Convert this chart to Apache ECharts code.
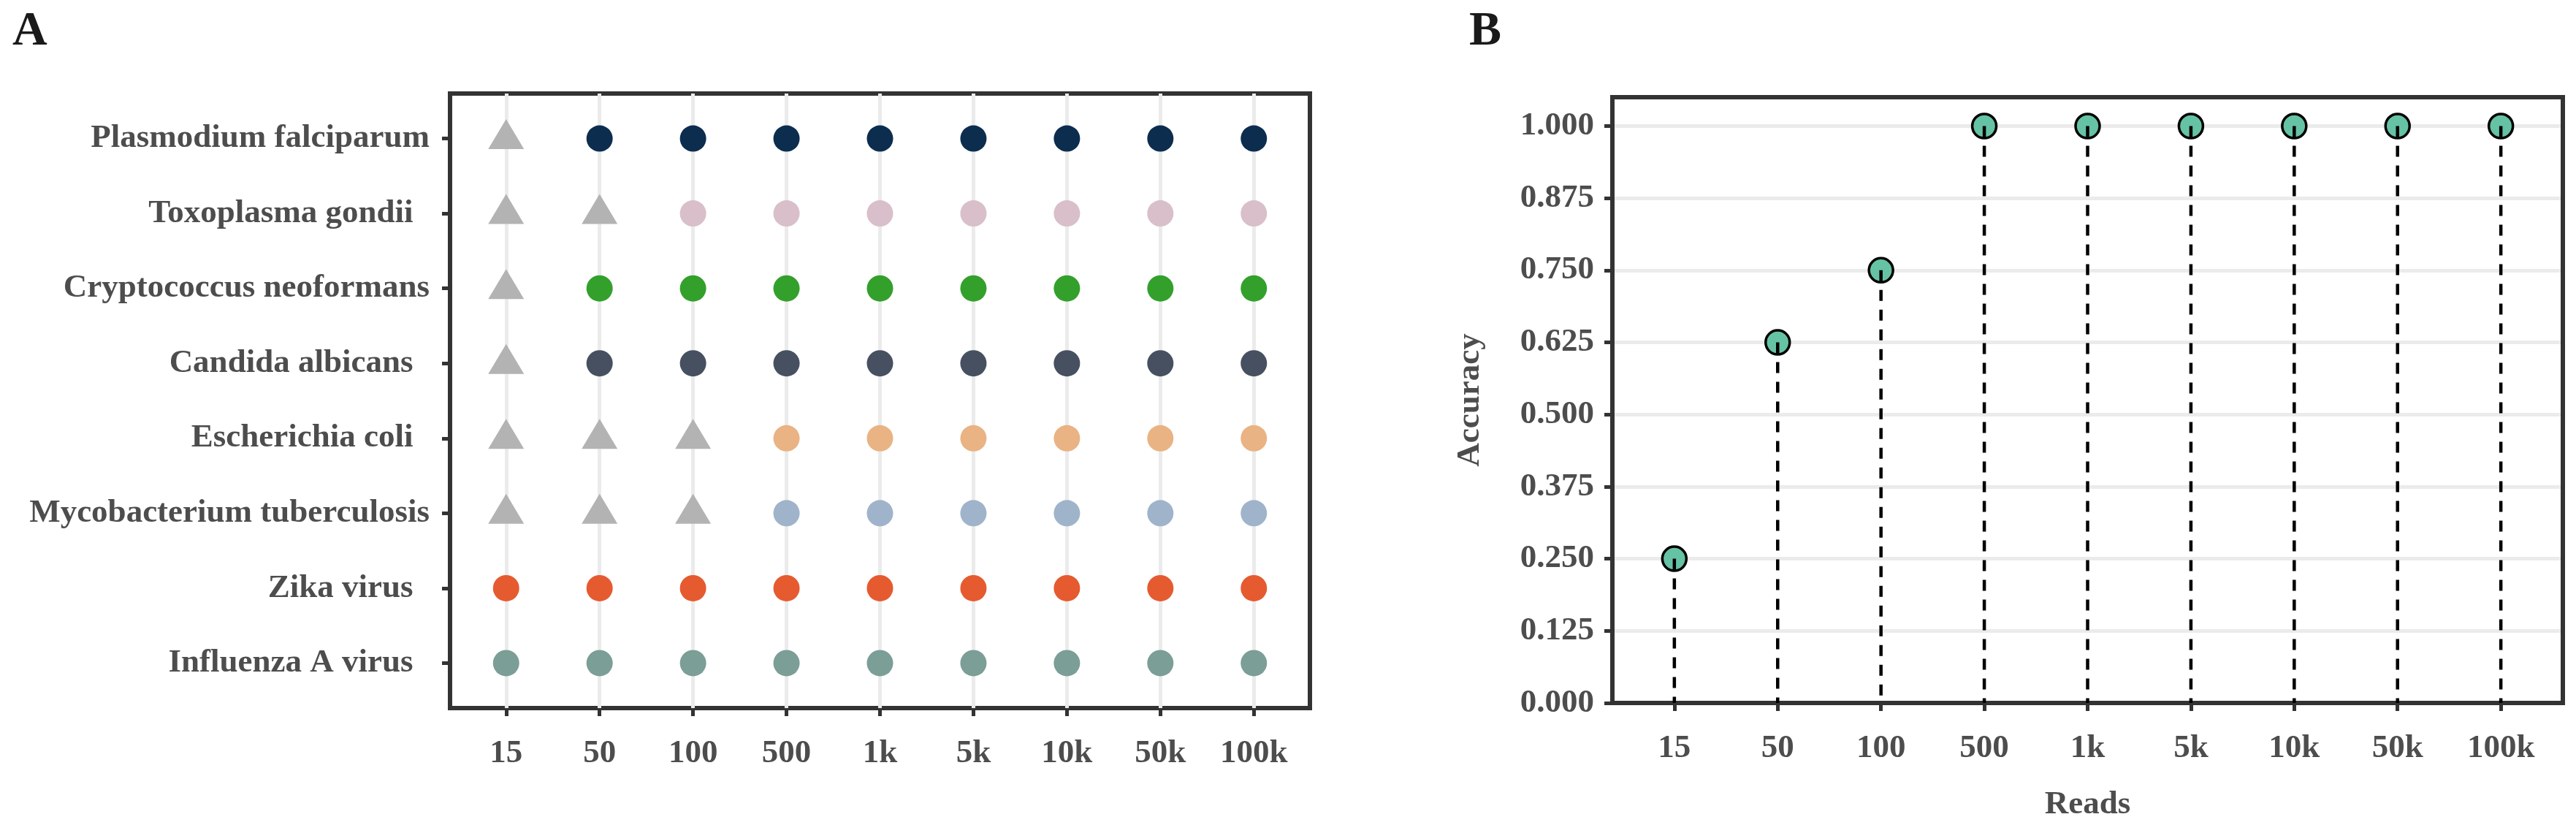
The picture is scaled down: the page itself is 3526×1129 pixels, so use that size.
<!DOCTYPE html>
<html>
<head>
<meta charset="utf-8">
<script src="https://cdn.jsdelivr.net/npm/echarts@6/dist/echarts.min.js"></script>
<style>
  html, body { margin: 0; padding: 0; background: #fff; }
  #chart { width: 3526px; height: 1129px; }
</style>
</head>
<body>
<div id="chart"></div>
<script>
// read depths shared by both panels
const readLabels = ['15', '50', '100', '500', '1k', '5k', '10k', '50k', '100k'];

// panel A, listed bottom to top as on the y axis
const species = [
  'Influenza A virus  ',
  'Zika virus  ',
  'Mycobacterium tuberculosis',
  'Escherichia coli  ',
  'Candida albicans  ',
  'Cryptococcus neoformans',
  'Toxoplasma gondii  ',
  'Plasmodium falciparum'
];
const speciesColors = ['#7b9e97', '#e65a30', '#9fb4ca', '#eab383', '#475060', '#33a02c', '#d8bfca', '#0c2d4e'];
// number of lowest read depths at which the species was missed (grey triangles)
const missedDepths = [0, 0, 3, 3, 1, 1, 2, 1];

// panel B
const accuracy = [0.25, 0.625, 0.75, 1, 1, 1, 1, 1, 1];
const accuracyTicks = [0, 0.125, 0.25, 0.375, 0.5, 0.625, 0.75, 0.875, 1];

const FONT = '"Liberation Serif", "Times New Roman", serif';
const TEXT = '#4d4d4d';
const INK = '#333333';

const readIdx = readLabels.map((_, i) => i);
const speciesIdx = species.map((_, i) => i);

const detected = [];
const missed = [];
species.forEach((name, s) => {
  readLabels.forEach((lab, r) => {
    if (r < missedDepths[s]) {
      missed.push([r, s]);
    } else {
      detected.push({ value: [r, s], itemStyle: { color: speciesColors[s], opacity: 1 } });
    }
  });
});

const labelStyle = { fontFamily: FONT, fontWeight: 'bold', fontSize: 45, color: TEXT };
const tickStyle = { show: true, length: 11, lineStyle: { color: INK, width: 5 } };
const noLine = { show: false, onZero: false };

const chart = echarts.init(document.getElementById('chart'), null, { renderer: 'canvas' });

const option = {
  animation: false,
  backgroundColor: '#ffffff',
  title: [
    { text: 'A', left: 12, top: 6, textStyle: { fontFamily: FONT, fontWeight: 'bold', fontSize: 66, color: '#1a1a1a' } },
    { text: 'B', left: 2006, top: 6, textStyle: { fontFamily: FONT, fontWeight: 'bold', fontSize: 66, color: '#1a1a1a' } }
  ],
  grid: [
    { left: 616, right: 1733, top: 128, bottom: 160, z: 1, show: true, borderColor: INK, borderWidth: 6, backgroundColor: 'transparent' },
    { left: 2207, right: 18, top: 133, bottom: 151, z: 1, show: true, borderColor: INK, borderWidth: 6, backgroundColor: 'transparent' }
  ],
  xAxis: [
    {
      gridIndex: 0, type: 'value', min: -0.6, max: 8.6,
      axisLine: noLine,
      axisTick: Object.assign({ customValues: readIdx }, tickStyle),
      axisLabel: Object.assign({ customValues: readIdx, margin: 40, formatter: v => readLabels[v] }, labelStyle),
      splitLine: { show: false }
    },
    {
      gridIndex: 1, type: 'value', min: -0.6, max: 8.6,
      name: 'Reads', nameLocation: 'middle', nameGap: 117,
      nameTextStyle: labelStyle,
      axisLine: noLine,
      axisTick: Object.assign({ customValues: readIdx }, tickStyle),
      axisLabel: Object.assign({ customValues: readIdx, margin: 40, formatter: v => readLabels[v] }, labelStyle),
      splitLine: { show: false }
    }
  ],
  yAxis: [
    {
      gridIndex: 0, type: 'value', min: -0.6, max: 7.6,
      axisLine: noLine,
      axisTick: Object.assign({ customValues: speciesIdx }, tickStyle),
      axisLabel: Object.assign({ customValues: speciesIdx, margin: 28, formatter: v => species[v] }, labelStyle),
      splitLine: { show: false }
    },
    {
      gridIndex: 1, type: 'value', min: 0, max: 1.05, interval: 0.125,
      name: 'Accuracy', nameLocation: 'middle', nameGap: 172, nameRotate: 90,
      nameTextStyle: labelStyle,
      axisLine: noLine,
      axisTick: Object.assign({ customValues: accuracyTicks }, tickStyle),
      axisLabel: Object.assign({ customValues: accuracyTicks, margin: 25, formatter: v => v.toFixed(3) }, labelStyle),
      splitLine: { show: true, lineStyle: { color: '#ebebeb', width: 5 } }
    }
  ],
  series: [
    {
      // vertical guide lines of panel A
      type: 'scatter', xAxisIndex: 0, yAxisIndex: 0, data: [], z: 1, silent: true,
      markLine: {
        z: 1, silent: true, symbol: ['none', 'none'], label: { show: false },
        lineStyle: { type: 'solid', color: '#ebebeb', width: 5 },
        data: readIdx.map(i => ({ xAxis: i }))
      }
    },
    {
      name: 'detected', type: 'scatter', xAxisIndex: 0, yAxisIndex: 0, z: 10,
      symbol: 'circle', symbolSize: 36, data: detected
    },
    {
      name: 'missed', type: 'scatter', xAxisIndex: 0, yAxisIndex: 0, z: 10,
      symbol: 'triangle', symbolSize: [49, 41], symbolOffset: [0, -6],
      itemStyle: { color: '#b3b3b3', opacity: 1 }, data: missed
    },
    {
      name: 'accuracy', type: 'scatter', xAxisIndex: 1, yAxisIndex: 1, z: 10,
      symbol: 'circle', symbolSize: 33,
      itemStyle: { color: '#66c2a5', borderColor: '#000', borderWidth: 3.5, opacity: 1 },
      data: accuracy.map((v, i) => [i, v])
    },
    {
      name: 'stems', type: 'custom', xAxisIndex: 1, yAxisIndex: 1, z: 11,
      encode: { x: 0, y: 1 },
      data: accuracy.map((v, i) => [i, v]),
      renderItem: function (params, api) {
        const top = api.coord([api.value(0), api.value(1)]);
        const base = api.coord([api.value(0), 0]);
        return {
          type: 'line',
          shape: { x1: top[0], y1: top[1], x2: base[0], y2: base[1] },
          style: { stroke: '#000', lineWidth: 4.5, lineDash: [15, 12] }
        };
      }
    }
  ]
};

chart.setOption(option);
</script>
</body>
</html>
